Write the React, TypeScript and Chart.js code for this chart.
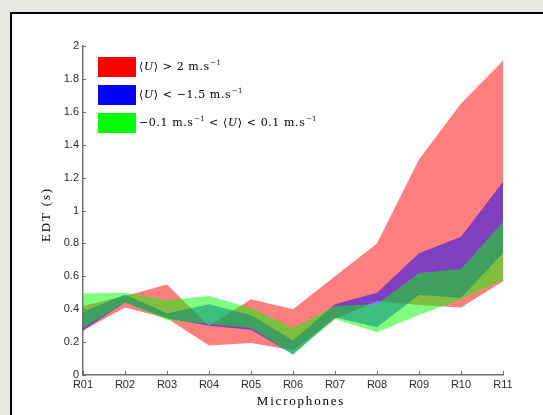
import { useEffect, useRef } from 'react';
import { Chart, registerables } from 'chart.js';

Chart.register(...registerables);

const microphones = ['R01', 'R02', 'R03', 'R04', 'R05', 'R06', 'R07', 'R08', 'R09', 'R10', 'R11'];

// <U> > 2 m/s band
const redUpper = [0.42, 0.48, 0.55, 0.30, 0.46, 0.40, 0.60, 0.80, 1.31, 1.65, 1.91];
const redLower = [0.27, 0.41, 0.345, 0.18, 0.195, 0.15, 0.34, 0.45, 0.425, 0.41, 0.57];
// <U> < -1.5 m/s band
const blueUpper = [0.385, 0.49, 0.375, 0.43, 0.365, 0.21, 0.43, 0.50, 0.74, 0.84, 1.175];
const blueLower = [0.27, 0.44, 0.345, 0.30, 0.275, 0.125, 0.35, 0.29, 0.486, 0.47, 0.74];
// -0.1 < <U> < 0.1 m/s band
const greenUpper = [0.495, 0.50, 0.456, 0.48, 0.407, 0.285, 0.42, 0.43, 0.62, 0.645, 0.93];
const greenLower = [0.285, 0.44, 0.335, 0.31, 0.286, 0.125, 0.34, 0.26, 0.365, 0.46, 0.58];

const yMin = 0;
const yMax = 2;
const yStep = 0.2;

const AXIS_COLOR = '#6f6f6f';
const TICK_COLOR = '#2a2a2a';

type Seg = { t: string; it?: boolean; sup?: boolean };

const legendItems: { color: string; segs: Seg[] }[] = [
  { color: '#ff0000', segs: [{ t: '⟨' }, { t: 'U', it: true }, { t: '⟩ > 2 m.s' }, { t: '−1', sup: true }] },
  { color: '#0000ff', segs: [{ t: '⟨' }, { t: 'U', it: true }, { t: '⟩ < −1.5 m.s' }, { t: '−1', sup: true }] },
  {
    color: '#00ff00',
    segs: [
      { t: '−0.1 m.s' }, { t: '−1', sup: true }, { t: ' < ⟨' }, { t: 'U', it: true },
      { t: '⟩ < 0.1 m.s' }, { t: '−1', sup: true },
    ],
  },
];

const SERIF = '"Liberation Serif", "DejaVu Serif", serif';
const LEG_SERIF = '"DejaVu Serif", serif';

function drawRich(ctx: CanvasRenderingContext2D, segs: Seg[], x: number, y: number) {
  let cx = x;
  ctx.textAlign = 'left';
  ctx.textBaseline = 'alphabetic';
  for (const s of segs) {
    if (s.sup) {
      ctx.font = `7px ${LEG_SERIF}`;
      (ctx as any).letterSpacing = '0.3px';
      ctx.fillText(s.t, cx + 0.5, y - 5);
      cx += ctx.measureText(s.t).width + 0.5;
    } else {
      ctx.font = `${s.it ? 'italic ' : ''}11px ${LEG_SERIF}`;
      (ctx as any).letterSpacing = '0.6px';
      ctx.fillText(s.t, cx, y);
      cx += ctx.measureText(s.t).width;
    }
  }
  (ctx as any).letterSpacing = '0px';
}

const decorPlugin = {
  id: 'decor',
  afterDraw(chart: any) {
    const { ctx, chartArea, scales } = chart;
    const xs = scales.x;
    const ys = scales.y;
    ctx.save();
    ctx.strokeStyle = AXIS_COLOR;
    ctx.lineWidth = 1;
    ys.ticks.forEach((_t: any, i: number) => {
      const py = Math.round(ys.getPixelForTick(i)) + 0.5;
      ctx.beginPath();
      ctx.moveTo(chartArea.left, py);
      ctx.lineTo(chartArea.left + 3, py);
      ctx.stroke();
    });
    xs.ticks.forEach((_t: any, i: number) => {
      const px = Math.round(xs.getPixelForTick(i)) + 0.5;
      ctx.beginPath();
      ctx.moveTo(px, chartArea.bottom);
      ctx.lineTo(px, chartArea.bottom - 4);
      ctx.stroke();
    });

    // axis titles
    ctx.fillStyle = '#000';
    ctx.font = `13px ${SERIF}`;
    (ctx as any).letterSpacing = '1.8px';
    ctx.textAlign = 'center';
    ctx.textBaseline = 'middle';
    ctx.fillText('Microphones', (chartArea.left + chartArea.right) / 2 + 8, chartArea.bottom + 27);
    ctx.save();
    ctx.translate(chartArea.left - 36, (chartArea.top + chartArea.bottom) / 2 + 4);
    ctx.rotate(-Math.PI / 2);
    ctx.fillText('EDT (s)', 0, 0);
    ctx.restore();
    (ctx as any).letterSpacing = '0px';

    // legend
    const lx = chartArea.left + 15;
    let ly = chartArea.top + 11;
    legendItems.forEach((item) => {
      ctx.fillStyle = item.color;
      ctx.fillRect(lx, ly, 38, 20);
      ctx.fillStyle = '#000';
      drawRich(ctx, item.segs, lx + 41, ly + 13);
      ly += 28;
    });
    ctx.restore();
  },
};

export default function App() {
  const canvasRef = useRef<HTMLCanvasElement | null>(null);

  useEffect(() => {
    if (!canvasRef.current) return;
    const band = (color: string) => ({ borderColor: 'rgba(0,0,0,0)', borderWidth: 0, pointRadius: 0, backgroundColor: color });
    const chart = new Chart(canvasRef.current, {
      type: 'line',
      data: {
        labels: microphones,
        datasets: [
          { label: 'greenLower', data: greenLower, fill: false, ...band('rgba(0,255,0,0.5)') },
          { label: 'greenUpper', data: greenUpper, fill: '-1', ...band('rgba(0,255,0,0.5)') },
          { label: 'blueLower', data: blueLower, fill: false, ...band('rgba(0,0,255,0.5)') },
          { label: 'blueUpper', data: blueUpper, fill: '-1', ...band('rgba(0,0,255,0.5)') },
          { label: 'redLower', data: redLower, fill: false, ...band('rgba(255,0,0,0.5)') },
          { label: 'redUpper', data: redUpper, fill: '-1', ...band('rgba(255,0,0,0.5)') },
        ],
      },
      options: {
        responsive: false,
        animation: false,
        layout: { padding: { left: 0, top: 46, right: 40, bottom: 0 } },
        plugins: {
          legend: { display: false },
          tooltip: { enabled: false },
          filler: { propagate: false },
        },
        elements: { line: { tension: 0 } },
        scales: {
          x: {
            type: 'category',
            offset: false,
            grid: { display: true, drawOnChartArea: false, drawTicks: false },
            border: { display: true, color: AXIS_COLOR, width: 1.5 },
            ticks: {
              color: TICK_COLOR,
              font: { family: '"Liberation Sans", Arial, sans-serif', size: 11 },
              padding: 3,
              maxRotation: 0,
              autoSkip: false,
            },
            afterFit: (s: any) => { s.height = 40; },
          },
          y: {
            min: yMin,
            max: yMax,
            grid: { display: true, drawOnChartArea: false, drawTicks: false },
            border: { display: true, color: AXIS_COLOR, width: 1.5 },
            ticks: {
              stepSize: yStep,
              color: TICK_COLOR,
              font: { family: '"Liberation Sans", Arial, sans-serif', size: 11 },
              padding: 4,
              callback: (v: any) => String(Number(Number(v).toFixed(1))),
            },
            afterFit: (s: any) => { s.width = 83; },
          },
        },
      },
      plugins: [decorPlugin],
    } as any);
    return () => chart.destroy();
  }, []);

  return (
    <div style={{ position: 'fixed', left: 0, top: 0, width: 543, height: 415, background: '#e8e7e4', overflow: 'hidden' }}>
      <div
        style={{
          position: 'absolute', left: 10, top: 12, width: 540, height: 410, background: '#fff',
          borderLeft: '2px solid #000', borderTop: '2px solid #000', boxSizing: 'border-box',
        }}
      />
      <canvas ref={canvasRef} width={543} height={415} style={{ position: 'absolute', left: 0, top: 0, width: 543, height: 415 }} />
    </div>
  );
}
